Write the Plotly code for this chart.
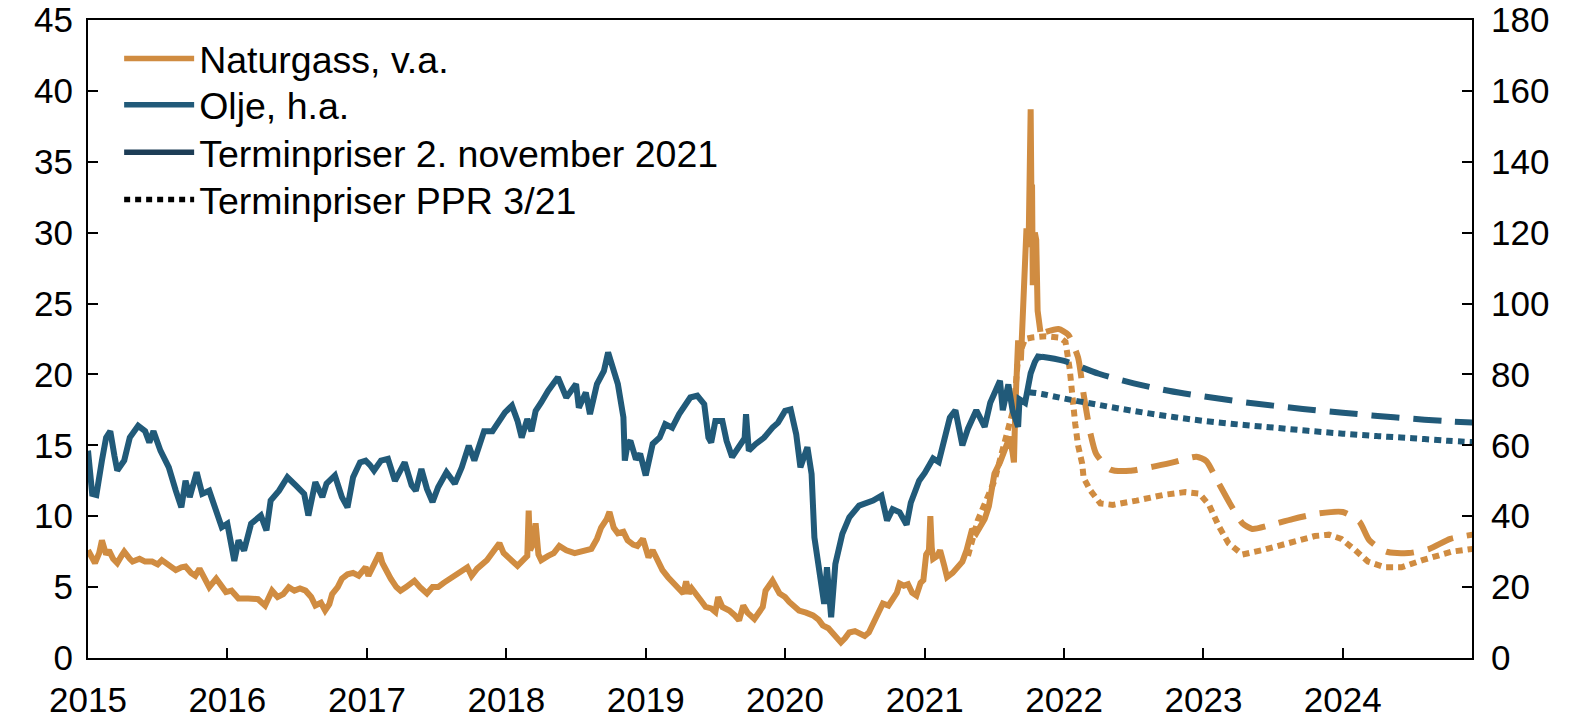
import datetime as dt
import plotly.graph_objects as go

# ---------------- data (decimal years) ----------------
gas_t = [2015.00, 2015.03, 2015.05, 2015.08, 2015.10, 2015.13, 2015.15, 2015.18, 2015.21, 2015.24,
         2015.26, 2015.30, 2015.32, 2015.37, 2015.41, 2015.46, 2015.50, 2015.53, 2015.58, 2015.63,
         2015.67, 2015.70, 2015.74, 2015.77, 2015.80, 2015.84, 2015.87, 2015.92, 2015.96, 2015.99,
         2016.03, 2016.08, 2016.15, 2016.22, 2016.27, 2016.30, 2016.32, 2016.36, 2016.40, 2016.44,
         2016.48, 2016.52, 2016.56, 2016.60, 2016.63, 2016.67, 2016.70, 2016.73, 2016.75, 2016.79,
         2016.82, 2016.86, 2016.90, 2016.94, 2016.99, 2017.01, 2017.03, 2017.06, 2017.09, 2017.11,
         2017.14, 2017.17, 2017.21, 2017.24, 2017.28, 2017.31, 2017.34, 2017.38, 2017.43, 2017.47,
         2017.51, 2017.55, 2017.60, 2017.66, 2017.72, 2017.75, 2017.79, 2017.86, 2017.92, 2017.95,
         2017.98, 2018.02, 2018.08, 2018.12, 2018.15, 2018.16, 2018.17, 2018.19, 2018.21, 2018.23,
         2018.25, 2018.30, 2018.34, 2018.38, 2018.43, 2018.49, 2018.55, 2018.61, 2018.65, 2018.68,
         2018.72, 2018.74, 2018.77, 2018.80, 2018.84, 2018.87, 2018.91, 2018.94, 2018.98, 2019.02,
         2019.05, 2019.09, 2019.12, 2019.16, 2019.19, 2019.23, 2019.27, 2019.29, 2019.31, 2019.33,
         2019.37, 2019.40, 2019.43, 2019.47, 2019.50, 2019.52, 2019.55, 2019.60, 2019.64, 2019.67,
         2019.70, 2019.73, 2019.78, 2019.81, 2019.84, 2019.86, 2019.91, 2019.96, 2020.00, 2020.03,
         2020.07, 2020.10, 2020.15, 2020.20, 2020.24, 2020.27, 2020.31, 2020.34, 2020.37, 2020.40,
         2020.43, 2020.46, 2020.50, 2020.53, 2020.57, 2020.60, 2020.63, 2020.66, 2020.70, 2020.74,
         2020.77, 2020.80, 2020.82, 2020.85, 2020.88, 2020.91, 2020.94, 2020.97, 2020.99, 2021.01,
         2021.03, 2021.04, 2021.05, 2021.06, 2021.09, 2021.11, 2021.14, 2021.16, 2021.20, 2021.23,
         2021.27, 2021.30, 2021.34, 2021.37, 2021.40, 2021.43, 2021.46, 2021.50, 2021.54, 2021.57,
         2021.61, 2021.63, 2021.64, 2021.65, 2021.67, 2021.69, 2021.71, 2021.73, 2021.745, 2021.76,
         2021.765, 2021.77, 2021.775, 2021.78, 2021.79, 2021.80, 2021.81, 2021.83]
gas_v = [7.6, 6.9, 6.7, 7.4, 8.3, 7.3, 7.6, 7.0, 6.7, 7.2,
         7.5, 7.0, 6.8, 7.0, 6.8, 6.8, 6.6, 6.9, 6.5, 6.2,
         6.4, 6.45, 6.0, 5.8, 6.3, 5.6, 5.0, 5.6, 5.0, 4.65,
         4.75, 4.2, 4.2, 4.15, 3.7, 4.3, 4.75, 4.3, 4.5, 5.0,
         4.75, 4.9, 4.75, 4.3, 3.7, 3.9, 3.35, 3.8, 4.5, 5.0,
         5.6, 5.9, 6.0, 5.8, 6.4, 5.8, 6.2, 6.6, 7.4, 6.7,
         6.1, 5.6, 5.0, 4.75, 5.0, 5.3, 5.45, 5.0, 4.55, 5.0,
         5.0, 5.3, 5.6, 6.0, 6.4, 5.8, 6.3, 6.9, 7.6, 8.1,
         7.4, 7.0, 6.5, 6.9, 7.2, 10.4, 7.6, 8.0, 9.5, 7.3,
         6.9, 7.2, 7.4, 7.9, 7.6, 7.4, 7.6, 7.7, 8.4, 9.2,
         9.8, 10.3, 9.2, 8.8, 8.9, 8.3, 8.0, 7.9, 8.4, 7.1,
         7.6, 6.8, 6.2, 5.7, 5.4, 5.0, 4.55, 5.4, 4.55, 4.9,
         4.3, 4.0, 3.6, 3.5, 3.25, 4.3, 3.6, 3.35, 3.0, 2.65,
         3.7, 3.2, 2.75, 3.2, 3.6, 4.75, 5.45, 4.55, 4.3, 3.95,
         3.6, 3.35, 3.2, 3.0, 2.7, 2.3, 2.1, 1.8, 1.5, 1.1,
         1.4, 1.8, 1.9, 1.7, 1.55, 1.8, 2.4, 3.0, 3.85, 3.7,
         4.1, 4.6, 5.25, 5.1, 5.2, 4.6, 4.4, 5.3, 5.5, 7.3,
         7.6, 10.0, 7.8, 7.0, 7.2, 7.6, 6.5, 5.7, 6.0, 6.3,
         6.8, 7.6, 9.1, 8.8, 9.4, 9.8, 10.7, 13.0, 13.8, 14.6,
         15.6, 14.5, 13.8, 17.7, 22.4, 21.0, 25.3, 30.3, 29.0, 38.7,
         33.0, 33.4, 26.3, 29.7, 30.0, 29.5, 24.5, 23.0]

oil_t = [2015.00, 2015.02, 2015.03, 2015.06, 2015.08, 2015.10, 2015.13, 2015.16, 2015.19, 2015.21,
         2015.26, 2015.30, 2015.36, 2015.41, 2015.44, 2015.47, 2015.52, 2015.58, 2015.63, 2015.67,
         2015.70, 2015.73, 2015.78, 2015.82, 2015.87, 2015.91, 2015.96, 2016.00, 2016.05, 2016.08,
         2016.12, 2016.17, 2016.24, 2016.28, 2016.31, 2016.37, 2016.43, 2016.49, 2016.55, 2016.58,
         2016.63, 2016.68, 2016.71, 2016.77, 2016.82, 2016.86, 2016.90, 2016.95, 2016.99, 2017.02,
         2017.05, 2017.10, 2017.15, 2017.20, 2017.27, 2017.32, 2017.35, 2017.39, 2017.43, 2017.47,
         2017.51, 2017.57, 2017.63, 2017.68, 2017.73, 2017.77, 2017.84, 2017.90, 2017.95, 2017.99,
         2018.04, 2018.08, 2018.11, 2018.15, 2018.18, 2018.21, 2018.25, 2018.30, 2018.37, 2018.43,
         2018.50, 2018.52, 2018.57, 2018.60, 2018.65, 2018.70, 2018.73, 2018.77, 2018.80, 2018.84,
         2018.85, 2018.87, 2018.89, 2018.93, 2018.96, 2019.00, 2019.05, 2019.10, 2019.14, 2019.19,
         2019.24, 2019.32, 2019.37, 2019.42, 2019.45, 2019.47, 2019.50, 2019.55, 2019.58, 2019.62,
         2019.67, 2019.71, 2019.72, 2019.74, 2019.79, 2019.85, 2019.91, 2019.95, 2020.00, 2020.04,
         2020.08, 2020.11, 2020.16, 2020.19, 2020.21, 2020.25, 2020.28, 2020.30, 2020.33, 2020.36,
         2020.41, 2020.46, 2020.53, 2020.63, 2020.69, 2020.73, 2020.77, 2020.82, 2020.87, 2020.90,
         2020.96, 2021.00, 2021.06, 2021.10, 2021.15, 2021.18, 2021.22, 2021.27, 2021.31, 2021.37,
         2021.43, 2021.47, 2021.54, 2021.56, 2021.60, 2021.63, 2021.67, 2021.68, 2021.72, 2021.76,
         2021.79, 2021.82, 2021.83]
oil_v = [58.5, 50.0, 46.3, 46.0, 50.0, 55.7, 62.2, 64.0, 57.0, 52.9,
         55.7, 62.2, 65.5, 64.0, 60.8, 64.0, 58.5, 53.8, 47.2, 42.5,
         50.0, 45.4, 52.4, 46.3, 47.2, 42.5, 36.9, 37.9, 27.4, 33.2,
         30.3, 37.9, 40.2, 36.0, 44.4, 47.2, 51.0, 48.7, 46.3, 40.2,
         49.6, 45.4, 49.2, 51.5, 45.4, 42.5, 51.0, 55.2, 55.7, 54.5,
         52.9, 55.7, 56.2, 50.0, 55.2, 48.7, 47.2, 53.3, 47.7, 44.0,
         48.2, 52.4, 49.2, 53.8, 59.9, 55.7, 64.0, 64.0, 66.9, 69.3,
         71.2, 66.9, 62.2, 67.4, 64.0, 69.7, 72.1, 75.4, 79.2, 73.5,
         77.3, 70.6, 74.9, 68.8, 77.3, 81.0, 86.2, 81.0, 77.3, 67.9,
         55.7, 60.4, 61.3, 56.0, 57.6, 51.5, 60.4, 62.2, 66.0, 65.0,
         68.8, 73.5, 74.0, 71.6, 62.2, 60.8, 66.9, 66.9, 61.3, 56.7,
         59.5, 62.0, 68.8, 58.5, 60.4, 62.2, 65.0, 66.4, 69.7, 70.1,
         63.1, 53.8, 59.5, 51.9, 34.0, 24.7, 15.3, 25.6, 11.5, 26.5,
         35.0, 39.7, 43.0, 44.4, 45.8, 38.8, 42.0, 41.1, 37.6, 43.8,
         50.0, 52.2, 56.3, 55.3, 62.6, 67.8, 69.9, 60.0, 64.7, 69.9,
         65.2, 72.0, 78.2, 69.9, 77.2, 69.9, 65.2, 73.0, 72.0, 80.3,
         83.5, 85.6, 84.0]

# Forward prices 2 November 2021
oil_fwd_t = [2021.84, 2022.00, 2022.25, 2022.50, 2022.75, 2023.00, 2023.25, 2023.50, 2023.75,
             2024.00, 2024.25, 2024.50, 2024.75, 2024.93]
oil_fwd_v = [85.0, 83.8, 80.2, 77.5, 75.4, 73.8, 72.4, 71.2, 70.1,
             69.2, 68.3, 67.5, 66.8, 66.4]
gas_fwd_t = [2021.87, 2021.96, 2022.03, 2022.10, 2022.14, 2022.19, 2022.23, 2022.33, 2022.47, 2022.64,
             2022.78, 2022.95, 2023.02, 2023.10, 2023.19, 2023.28, 2023.35, 2023.47, 2023.64, 2023.83,
             2024.00, 2024.12, 2024.19, 2024.31, 2024.47, 2024.62, 2024.77, 2024.93]
gas_fwd_v = [23.0, 23.2, 22.8, 21.2, 18.6, 15.8, 14.4, 13.3, 13.2, 13.5,
             13.8, 14.2, 13.9, 12.5, 10.9, 9.5, 9.1, 9.35, 9.8, 10.2,
             10.3, 9.6, 8.3, 7.5, 7.4, 7.7, 8.4, 8.7]

# Forward prices PPR 3/21
oil_ppr_t = [2021.75, 2021.84, 2022.00, 2022.25, 2022.50, 2022.75, 2023.00, 2023.25, 2023.50,
             2023.75, 2024.00, 2024.25, 2024.50, 2024.75, 2024.93]
oil_ppr_v = [75.0, 74.5, 73.2, 71.4, 69.7, 68.2, 66.9, 65.9, 65.0,
             64.1, 63.3, 62.6, 62.0, 61.3, 60.9]
gas_ppr_t = [2021.31, 2021.38, 2021.50, 2021.57, 2021.64, 2021.67, 2021.72, 2021.77, 2021.87, 2021.97,
             2022.01, 2022.04, 2022.06, 2022.08, 2022.10, 2022.13, 2022.14, 2022.19, 2022.26, 2022.35,
             2022.52, 2022.71, 2022.87, 2022.97, 2023.04, 2023.11, 2023.18, 2023.28, 2023.42, 2023.61,
             2023.80, 2023.90, 2023.99, 2024.09, 2024.18, 2024.30, 2024.42, 2024.57, 2024.78, 2024.93]
gas_ppr_v = [7.2, 9.7, 12.5, 15.3, 17.7, 21.2, 22.5, 22.6, 22.7, 22.6,
             22.3, 20.4, 18.0, 16.5, 15.0, 13.7, 12.7, 11.8, 10.9, 10.8,
             11.1, 11.5, 11.7, 11.6, 10.8, 9.3, 8.1, 7.3, 7.6, 8.1,
             8.6, 8.7, 8.4, 7.6, 6.8, 6.4, 6.4, 6.9, 7.5, 7.7]

legend_names = ["Naturgass, v.a.", "Olje, h.a.", "Terminpriser 2. november 2021", "Terminpriser PPR 3/21"]
year_ticks = list(range(2015, 2025))
gas_ticks = list(range(0, 46, 5))
oil_ticks = list(range(0, 181, 20))

# ---------------- helpers ----------------
def to_date(y):
    yr = int(y)
    start = dt.datetime(yr, 1, 1)
    end = dt.datetime(yr + 1, 1, 1)
    return start + (end - start) * (y - yr)

def dates(ts):
    return [to_date(t) for t in ts]

ORANGE = "#D08C41"
BLUE = "#215A79"
NAVY = "#1D3D56"
FONT = "Liberation Sans, Arial, sans-serif"
FWD_DASH = "28px,14px"
DOT = "7px,5px"

fig = go.Figure()

# gas (left axis)
fig.add_trace(go.Scatter(x=dates(gas_ppr_t), y=gas_ppr_v, mode="lines", showlegend=False,
                         line=dict(color=ORANGE, width=6, dash=DOT)))
fig.add_trace(go.Scatter(x=dates(gas_fwd_t), y=gas_fwd_v, mode="lines", showlegend=False,
                         line=dict(color=ORANGE, width=6, dash=FWD_DASH, shape="spline", smoothing=0.6)))
fig.add_trace(go.Scatter(x=dates(gas_t), y=gas_v, mode="lines", showlegend=False,
                         line=dict(color=ORANGE, width=6)))
# oil (right axis)
fig.add_trace(go.Scatter(x=dates(oil_t), y=oil_v, mode="lines", showlegend=False, yaxis="y2",
                         line=dict(color=BLUE, width=6)))
fig.add_trace(go.Scatter(x=dates(oil_fwd_t), y=oil_fwd_v, mode="lines", showlegend=False, yaxis="y2",
                         line=dict(color=BLUE, width=6, dash=FWD_DASH, shape="spline")))
fig.add_trace(go.Scatter(x=dates(oil_ppr_t), y=oil_ppr_v, mode="lines", showlegend=False, yaxis="y2",
                         line=dict(color=BLUE, width=6, dash=DOT, shape="spline")))

# legend entries: one legend per row so each row sits exactly where it does in the reference
legend_styles = [(ORANGE, "solid"), (BLUE, "solid"), (NAVY, "solid"), ("black", "6px,5px")]
legend_keys = ["legend", "legend2", "legend3", "legend4"]
legend_rows_y = [0.9394, 0.8668, 0.7926, 0.7186]
for name, (col, dash), key in zip(legend_names, legend_styles, legend_keys):
    fig.add_trace(go.Scatter(x=[None], y=[None], mode="lines", name=name, legend=key,
                             showlegend=True, line=dict(color=col, width=5.5, dash=dash)))

legend_layout = {}
for key, ly in zip(legend_keys, legend_rows_y):
    legend_layout[key] = dict(x=0.0225, y=ly, xanchor="left", yanchor="middle",
                              bgcolor="rgba(0,0,0,0)", itemwidth=70,
                              font=dict(family=FONT, size=37.5, color="black"))

axis_common = dict(showgrid=False, zeroline=False, showline=True, linecolor="black", linewidth=2,
                   ticks="inside", ticklen=10, tickwidth=2, tickcolor="black", automargin=False,
                   tickfont=dict(family=FONT, size=35, color="black"))

fig.update_layout(
    width=1580, height=719,
    margin=dict(l=88, r=108, t=20, b=61, autoexpand=False),
    paper_bgcolor="white", plot_bgcolor="white",
    font=dict(family=FONT, size=35, color="black"),
    showlegend=True,
    xaxis=dict(type="date", range=[to_date(2015.0), to_date(2024.925)],
               tickvals=[dt.datetime(y, 1, 1) for y in year_ticks],
               ticktext=[str(y) for y in year_ticks], mirror=True,
               ticklabelstandoff=10, **axis_common),
    yaxis=dict(range=[0, 45.0001], tickvals=gas_ticks, ticklabelstandoff=6, **axis_common),
    yaxis2=dict(range=[0, 180.0004], tickvals=oil_ticks, overlaying="y", side="right",
                ticklabelstandoff=10, **axis_common),
    **legend_layout,
)

fig.write_html("out.html", config={"displayModeBar": False, "responsive": False},
               post_script="document.body.style.margin='0';document.body.style.overflow='hidden';")
